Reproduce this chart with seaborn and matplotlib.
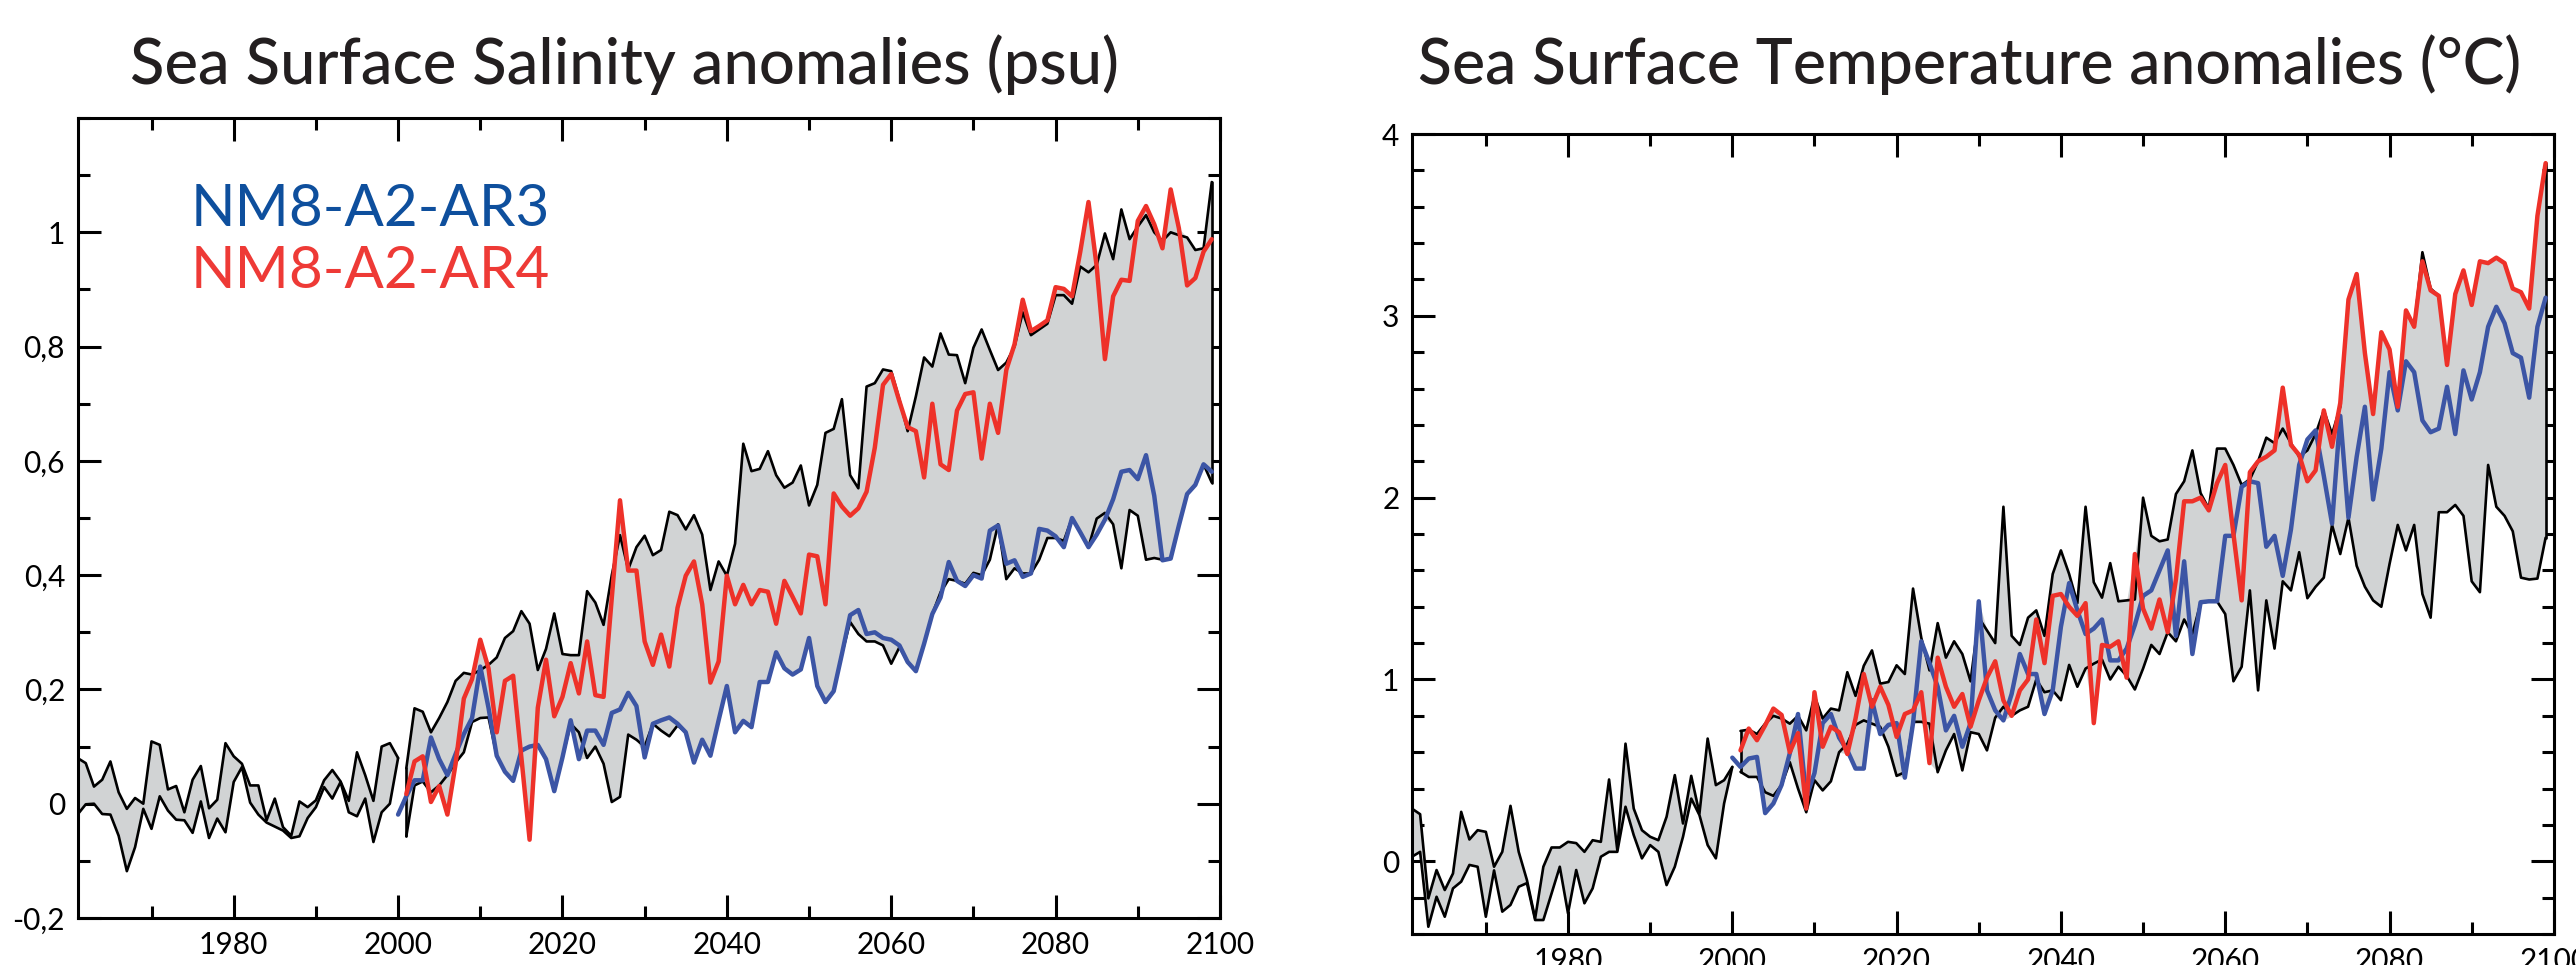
import numpy as np
import matplotlib
matplotlib.use("Agg")
import matplotlib.pyplot as plt
import seaborn as sns
from matplotlib.ticker import MultipleLocator

# years
hist_years = list(range(1961, 2001))
proj_years = list(range(2001, 2100))
run_years = list(range(2000, 2100))

# ---- Sea surface salinity (psu) ----
sss_hist_upper = [0.080, 0.071, 0.030, 0.042, 0.074, 0.020, -0.009, 0.010, 0.000, 0.109,
                  0.103, 0.025, 0.031, -0.015, 0.042, 0.066, -0.008, 0.007, 0.106, 0.083,
                  0.070, 0.032, 0.032, -0.029, 0.009, -0.041, -0.056, 0.004, -0.006, 0.006,
                  0.041, 0.059, 0.039, 0.005, 0.090, 0.050, 0.005, 0.100, 0.106, 0.080]
sss_hist_lower = [-0.019, -0.001, 0.000, -0.018, -0.019, -0.056, -0.118, -0.076, -0.009, -0.044,
                  0.013, -0.012, -0.028, -0.029, -0.051, 0.004, -0.060, -0.026, -0.050, 0.038,
                  0.064, 0.002, -0.019, -0.033, -0.040, -0.047, -0.060, -0.057, -0.025, -0.006,
                  0.029, 0.009, 0.038, -0.015, -0.022, 0.009, -0.067, -0.015, 0.000, 0.080]
sss_upper = [0.062, 0.167, 0.161, 0.125, 0.150, 0.178, 0.215, 0.229, 0.226, 0.234,
             0.243, 0.256, 0.290, 0.302, 0.337, 0.315, 0.234, 0.271, 0.333, 0.262,
             0.260, 0.260, 0.372, 0.352, 0.313, 0.400, 0.470, 0.410, 0.449, 0.469,
             0.435, 0.444, 0.511, 0.505, 0.480, 0.505, 0.471, 0.374, 0.424, 0.399,
             0.455, 0.630, 0.582, 0.586, 0.617, 0.575, 0.553, 0.562, 0.592, 0.522,
             0.558, 0.649, 0.656, 0.708, 0.575, 0.552, 0.730, 0.736, 0.760, 0.757,
             0.707, 0.652, 0.713, 0.781, 0.765, 0.823, 0.786, 0.785, 0.736, 0.798,
             0.830, 0.794, 0.759, 0.772, 0.800, 0.860, 0.820, 0.830, 0.840, 0.890,
             0.890, 0.875, 0.940, 0.930, 0.943, 0.998, 0.953, 1.040, 0.988, 1.010,
             1.030, 1.000, 0.985, 1.000, 0.995, 0.991, 0.969, 0.972, 1.088]
sss_lower = [-0.057, 0.032, 0.039, 0.020, 0.032, 0.050, 0.072, 0.090, 0.143, 0.150,
             0.151, 0.084, 0.056, 0.040, 0.093, 0.100, 0.103, 0.078, 0.022, 0.081,
             0.140, 0.125, 0.080, 0.100, 0.070, 0.003, 0.012, 0.121, 0.112, 0.100,
             0.140, 0.128, 0.118, 0.137, 0.125, 0.072, 0.112, 0.084, 0.146, 0.206,
             0.125, 0.145, 0.134, 0.213, 0.213, 0.265, 0.237, 0.226, 0.235, 0.290,
             0.206, 0.178, 0.197, 0.262, 0.318, 0.297, 0.284, 0.284, 0.277, 0.245,
             0.274, 0.248, 0.232, 0.280, 0.332, 0.370, 0.393, 0.390, 0.385, 0.404,
             0.400, 0.427, 0.489, 0.393, 0.412, 0.403, 0.403, 0.427, 0.465, 0.465,
             0.460, 0.500, 0.475, 0.449, 0.499, 0.509, 0.489, 0.412, 0.514, 0.504,
             0.427, 0.430, 0.427, 0.429, 0.487, 0.542, 0.558, 0.594, 0.562]
sss_ar4 = [0.017, 0.074, 0.083, 0.003, 0.031, -0.019, 0.070, 0.184, 0.218, 0.287,
           0.237, 0.125, 0.215, 0.224, 0.081, -0.063, 0.168, 0.252, 0.153, 0.187,
           0.246, 0.193, 0.284, 0.190, 0.187, 0.360, 0.531, 0.408, 0.408, 0.284,
           0.243, 0.296, 0.240, 0.343, 0.399, 0.424, 0.349, 0.212, 0.249, 0.399,
           0.349, 0.383, 0.349, 0.374, 0.371, 0.315, 0.390, 0.362, 0.333, 0.436,
           0.433, 0.349, 0.543, 0.520, 0.504, 0.517, 0.546, 0.623, 0.733, 0.752,
           0.704, 0.659, 0.652, 0.571, 0.700, 0.594, 0.584, 0.688, 0.717, 0.720,
           0.604, 0.700, 0.649, 0.759, 0.804, 0.882, 0.827, 0.836, 0.846, 0.904,
           0.901, 0.888, 0.966, 1.053, 0.940, 0.778, 0.888, 0.917, 0.915, 1.020,
           1.046, 1.014, 0.972, 1.075, 1.007, 0.907, 0.920, 0.966, 0.988]
sss_ar3 = [-0.019,
           0.013, 0.041, 0.041, 0.116, 0.078, 0.050, 0.087, 0.122, 0.150, 0.240,
           0.168, 0.084, 0.056, 0.040, 0.093, 0.100, 0.103, 0.078, 0.022, 0.081,
           0.146, 0.078, 0.128, 0.128, 0.103, 0.159, 0.165, 0.194, 0.171, 0.081,
           0.140, 0.146, 0.151, 0.140, 0.125, 0.072, 0.112, 0.084, 0.146, 0.206,
           0.125, 0.145, 0.134, 0.213, 0.213, 0.265, 0.237, 0.226, 0.235, 0.290,
           0.206, 0.178, 0.197, 0.262, 0.330, 0.339, 0.297, 0.300, 0.290, 0.287,
           0.277, 0.248, 0.232, 0.280, 0.332, 0.361, 0.423, 0.390, 0.381, 0.400,
           0.394, 0.478, 0.487, 0.420, 0.426, 0.397, 0.403, 0.481, 0.478, 0.468,
           0.449, 0.500, 0.475, 0.449, 0.471, 0.497, 0.533, 0.581, 0.584, 0.568,
           0.610, 0.539, 0.426, 0.429, 0.487, 0.542, 0.558, 0.594, 0.581]

# ---- Sea surface temperature (C) ----
sst_hist_upper = [0.290, 0.259, -0.204, -0.048, -0.158, -0.067, 0.272, 0.120, 0.171, 0.162,
                  -0.030, 0.052, 0.305, 0.052, -0.103, -0.314, -0.030, 0.076, 0.076, 0.107,
                  0.100, 0.052, 0.116, 0.107, 0.450, 0.062, 0.647, 0.290, 0.171, 0.135,
                  0.116, 0.245, 0.474, 0.208, 0.470, 0.263, 0.675, 0.419, 0.446, 0.519]
sst_hist_lower = [0.025, 0.052, -0.360, -0.195, -0.305, -0.149, -0.112, -0.020, -0.030, -0.305,
                  -0.050, -0.277, -0.240, -0.140, -0.120, -0.323, -0.323, -0.177, -0.030, -0.286,
                  -0.048, -0.231, -0.149, 0.025, 0.052, 0.052, 0.300, 0.144, 0.016, 0.089,
                  0.052, -0.131, -0.030, 0.135, 0.345, 0.254, 0.089, 0.016, 0.318, 0.519]
sst_upper = [0.717, 0.724, 0.700, 0.757, 0.800, 0.785, 0.757, 0.800, 0.720, 0.910,
             0.785, 0.840, 0.830, 1.040, 0.910, 1.075, 1.160, 0.977, 0.986, 1.078,
             1.030, 1.500, 1.230, 1.050, 1.310, 1.120, 1.210, 1.140, 0.990, 1.340,
             1.270, 1.200, 1.950, 1.240, 1.190, 1.340, 1.380, 1.240, 1.580, 1.710,
             1.580, 1.420, 1.950, 1.535, 1.450, 1.640, 1.430, 1.435, 1.440, 2.000,
             1.790, 1.760, 1.770, 2.020, 2.090, 2.260, 2.025, 1.940, 2.270, 2.270,
             2.180, 2.070, 2.100, 2.200, 2.330, 2.300, 2.380, 2.300, 2.225, 2.260,
             2.350, 2.480, 2.350, 2.500, 3.090, 3.230, 2.795, 2.460, 2.910, 2.815,
             2.500, 3.030, 2.940, 3.350, 3.150, 3.110, 2.730, 3.120, 3.250, 3.060,
             3.300, 3.290, 3.320, 3.290, 3.150, 3.130, 3.040, 3.550, 3.840]
sst_lower = [0.492, 0.464, 0.464, 0.380, 0.360, 0.420, 0.545, 0.400, 0.270, 0.446,
             0.390, 0.440, 0.600, 0.647, 0.750, 0.775, 0.757, 0.740, 0.630, 0.470,
             0.490, 0.767, 0.767, 0.757, 0.490, 0.610, 0.700, 0.500, 0.710, 0.700,
             0.610, 0.790, 0.850, 0.800, 0.830, 0.850, 1.000, 0.930, 0.940, 0.886,
             1.080, 0.960, 1.060, 1.087, 1.110, 1.000, 1.070, 1.020, 0.945, 1.060,
             1.190, 1.140, 1.260, 1.210, 1.330, 1.250, 1.420, 1.430, 1.430, 1.360,
             0.990, 1.070, 1.490, 0.940, 1.435, 1.170, 1.540, 1.490, 1.700, 1.447,
             1.510, 1.560, 1.850, 1.690, 1.890, 1.625, 1.510, 1.435, 1.400, 1.635,
             1.850, 1.710, 1.850, 1.470, 1.340, 1.920, 1.920, 1.960, 1.900, 1.540,
             1.480, 2.180, 1.950, 1.900, 1.815, 1.560, 1.550, 1.555, 1.780]
sst_ar4 = [0.610, 0.730, 0.666, 0.748, 0.840, 0.805, 0.600, 0.705, 0.290, 0.930,
           0.630, 0.740, 0.710, 0.590, 0.785, 1.030, 0.850, 0.960, 0.860, 0.684,
           0.810, 0.830, 0.930, 0.540, 1.120, 0.960, 0.850, 0.920, 0.740, 0.885,
           1.010, 1.100, 0.885, 0.800, 0.940, 1.000, 1.330, 1.090, 1.460, 1.470,
           1.400, 1.350, 1.420, 0.760, 1.190, 1.180, 1.210, 1.010, 1.690, 1.390,
           1.280, 1.440, 1.260, 1.550, 1.980, 1.980, 2.000, 1.930, 2.080, 2.180,
           1.800, 1.435, 2.140, 2.200, 2.225, 2.260, 2.605, 2.290, 2.235, 2.090,
           2.150, 2.480, 2.280, 2.520, 3.090, 3.230, 2.795, 2.460, 2.910, 2.815,
           2.500, 3.030, 2.940, 3.300, 3.140, 3.110, 2.730, 3.120, 3.250, 3.060,
           3.300, 3.290, 3.320, 3.290, 3.150, 3.130, 3.040, 3.550, 3.840]
sst_ar3 = [0.570,
           0.519, 0.565, 0.574, 0.265, 0.318, 0.420, 0.595, 0.810, 0.350, 0.485,
           0.760, 0.810, 0.680, 0.610, 0.510, 0.510, 0.886, 0.700, 0.750, 0.760,
           0.460, 0.760, 1.210, 1.090, 0.960, 0.720, 0.800, 0.630, 0.760, 1.430,
           0.940, 0.830, 0.775, 0.920, 1.140, 1.030, 1.030, 0.810, 0.940, 1.290,
           1.530, 1.380, 1.250, 1.280, 1.330, 1.105, 1.105, 1.170, 1.300, 1.460,
           1.490, 1.600, 1.710, 1.240, 1.650, 1.140, 1.425, 1.430, 1.430, 1.790,
           1.790, 2.060, 2.090, 2.080, 1.730, 1.790, 1.570, 1.825, 2.180, 2.320,
           2.370, 2.120, 1.857, 2.450, 1.890, 2.225, 2.500, 1.990, 2.270, 2.690,
           2.480, 2.750, 2.690, 2.425, 2.360, 2.380, 2.610, 2.350, 2.700, 2.540,
           2.690, 2.940, 3.050, 2.960, 2.795, 2.770, 2.550, 2.940, 3.100]

# axis ticks
year_ticks = [1980, 2000, 2020, 2040, 2060, 2080, 2100]
sss_ticks = [-0.2, 0, 0.2, 0.4, 0.6, 0.8, 1.0]
sss_labels = ["-0,2", "0", "0,2", "0,4", "0,6", "0,8", "1"]
sst_ticks = [0, 1, 2, 3, 4]
sst_labels = ["0", "1", "2", "3", "4"]

GRAY = "#d1d3d4"
BLUE = "#3c55a5"
RED = "#ee3129"
INK = "#231f20"


def draw_panel(ax, h_up, h_lo, up, lo, ar4, ar3):
    ax.fill_between(hist_years, h_lo, h_up, color=GRAY, lw=0)
    members = np.array([up, lo, ar4, ar3[1:]])
    ax.fill_between(proj_years, members.min(axis=0), members.max(axis=0), color=GRAY, lw=0)

    for yrs, series in [(hist_years, h_up), (hist_years, h_lo), (proj_years, up), (proj_years, lo)]:
        sns.lineplot(x=yrs, y=series, ax=ax, color="black", linewidth=1.9,
                     estimator=None, legend=False)
    # closing edges of the projection envelope
    for i in (0, -1):
        ax.plot([proj_years[i], proj_years[i]], [up[i], lo[i]], color="black", lw=1.9)

    sns.lineplot(x=run_years, y=ar3, ax=ax, color=BLUE, linewidth=3.2, estimator=None, legend=False)
    sns.lineplot(x=proj_years, y=ar4, ax=ax, color=RED, linewidth=3.2, estimator=None, legend=False)

    ax.set_xlim(1961, 2100)
    ax.set_xticks(year_ticks)
    ax.set_xticklabels([str(y) for y in year_ticks])
    ax.xaxis.set_minor_locator(MultipleLocator(10))
    ax.tick_params(which="both", direction="in", top=True, right=True, bottom=True, left=True,
                   colors="black", labelsize=21.5, pad=9)
    ax.tick_params(which="major", length=16.5, width=2.2)
    ax.tick_params(which="minor", length=8.3, width=2.2)
    for s in ax.spines.values():
        s.set_color("black")
        s.set_linewidth(2.2)
    ax.set_xlabel("")
    ax.set_ylabel("")
    ax.grid(False)


sns.set_theme(style="white")
plt.rcParams["font.family"] = ["Lato", "DejaVu Sans"]

fig = plt.figure(figsize=(25.76, 9.65), dpi=100)
ax1 = fig.add_axes([0.0301, 0.0487, 0.4435, 0.829])
ax2 = fig.add_axes([0.5481, 0.0321, 0.4433, 0.829])

draw_panel(ax1, sss_hist_upper, sss_hist_lower, sss_upper, sss_lower, sss_ar4, sss_ar3)
ax1.set_ylim(-0.2, 1.2)
ax1.set_yticks(sss_ticks)
ax1.set_yticklabels(sss_labels)
ax1.yaxis.set_minor_locator(MultipleLocator(0.1))

draw_panel(ax2, sst_hist_upper, sst_hist_lower, sst_upper, sst_lower, sst_ar4, sst_ar3)
ax2.set_ylim(-0.4, 4)
ax2.set_yticks(sst_ticks)
ax2.set_yticklabels(sst_labels)
ax2.yaxis.set_minor_locator(MultipleLocator(0.2))

fig.text(624 / 2576, 1 - 84 / 965, "Sea Surface Salinity anomalies (psu)",
         ha="center", va="baseline", fontsize=45.5, fontweight="medium", color=INK)
fig.text(1970 / 2576, 1 - 84 / 965, "Sea Surface Temperature anomalies (\u00b0C)",
         ha="center", va="baseline", fontsize=45, fontweight="medium", color=INK)

ax1.text(0.099, 0.865, "NM8-A2-AR3", transform=ax1.transAxes, fontsize=42,
         color="#0e4f9d", va="baseline", ha="left")
ax1.text(0.099, 0.787, "NM8-A2-AR4", transform=ax1.transAxes, fontsize=42,
         color="#ee3a36", va="baseline", ha="left")

fig.savefig("out.png", dpi=100)
